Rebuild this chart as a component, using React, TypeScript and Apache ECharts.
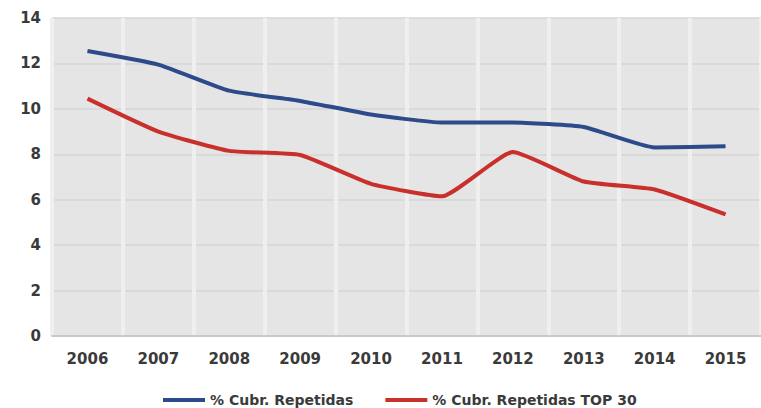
import React, { useEffect, useRef } from "react";
import * as echarts from "echarts";

const years = ["2006", "2007", "2008", "2009", "2010", "2011", "2012", "2013", "2014", "2015"];
const repetidas = [12.55, 11.95, 10.8, 10.35, 9.75, 9.4, 9.4, 9.2, 8.3, 8.35];
const repetidasTop30 = [10.45, 9.0, 8.15, 7.97, 6.7, 6.15, 8.1, 6.8, 6.45, 5.35];
const seriesNames = ["% Cubr. Repetidas", "% Cubr. Repetidas TOP 30"];

export default function App() {
  const ref = useRef<HTMLDivElement>(null);

  useEffect(() => {
    document.body.style.margin = "0";
    if (!ref.current) return;
    const chart = echarts.init(ref.current, null, { renderer: "svg" });
    const labelStyle = {
      fontFamily: "DejaVu Sans",
      fontWeight: "bold" as const,
      fontSize: 15,
      color: "#3a3a3a",
    };
    chart.setOption({
      animation: false,
      backgroundColor: "#ffffff",
      grid: {
        left: 52,
        top: 18,
        width: 715,
        height: 318,
        show: true,
        backgroundColor: "#e5e5e5",
        borderWidth: 0,
      },
      legend: {
        left: 158,
        top: 388,
        itemWidth: 42,
        itemHeight: 4,
        itemGap: 32,
        icon: "rect",
        textStyle: { ...labelStyle, fontSize: 14, padding: [0, 0, 0, 0] },
        data: seriesNames,
      },
      xAxis: {
        type: "category",
        data: years,
        boundaryGap: true,
        axisLine: { show: true, lineStyle: { color: "#c9c9c9", width: 2 } },
        axisTick: { show: false },
        axisLabel: { ...labelStyle, margin: 15 },
        splitLine: { show: true, lineStyle: { color: "#efefef", width: 4 } },
      },
      yAxis: {
        type: "value",
        min: 0,
        max: 14,
        interval: 2,
        axisLine: { show: false },
        axisTick: { show: false },
        axisLabel: { ...labelStyle, margin: 11 },
        splitLine: { show: true, lineStyle: { color: "#d4d4d4", width: 1.5 } },
      },
      series: [
        {
          name: seriesNames[0],
          type: "line",
          data: repetidas,
          symbol: "none",
          smooth: 0.15,
          lineStyle: { color: "#2d4a8a", width: 4 },
          itemStyle: { color: "#2d4a8a" },
        },
        {
          name: seriesNames[1],
          type: "line",
          data: repetidasTop30,
          symbol: "none",
          smooth: 0.15,
          lineStyle: { color: "#c9302c", width: 4 },
          itemStyle: { color: "#c9302c" },
        },
      ],
    });
    return () => chart.dispose();
  }, []);

  return <div ref={ref} style={{ width: 761, height: 408 }} />;
}
